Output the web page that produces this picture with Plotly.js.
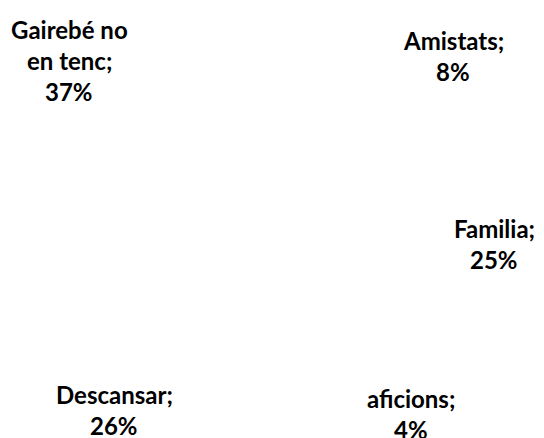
<!DOCTYPE html>
<html>
<head>
<meta charset="utf-8">
<script src="https://cdn.plot.ly/plotly-3.0.1.min.js"></script>
<style>html,body{margin:0;padding:0;background:#fff;}#chart{width:544px;height:438px;}</style>
</head>
<body>
<div id="chart"></div>
<script>
// Data
const labels = ["Amistats", "Familia", "aficions", "Descansar", "Gairebé no en tenc"];
const values = [8, 25, 4, 26, 37];

// Label placement (pixels in the 544x438 canvas: centre x, first-line centre y) - layout only
const labelPos = [[453, 40], [494, 228], [411, 398], [114, 394], [69, 29.5]];
const lineGap = 31;

const W = 544, H = 438;

function wrapLines(text, maxLen) {
  const words = text.split(" ");
  const lines = [];
  let cur = "";
  words.forEach(w => {
    const t = cur ? cur + " " + w : w;
    if (t.length > maxLen && cur) { lines.push(cur); cur = w; }
    else cur = t;
  });
  if (cur) lines.push(cur);
  return lines;
}

const total = values.reduce((a, b) => a + b, 0);
const font = {family: "Lato, 'Open Sans', sans-serif", size: 24, color: "#000", weight: "bold"};

const annotations = [];
labels.forEach((lab, i) => {
  const lines = wrapLines(lab + ";", 10);
  lines.push(Math.round(values[i] / total * 100) + "%");
  lines.forEach((ln, k) => {
    annotations.push({
      text: ln,
      xref: "paper", yref: "paper",
      x: labelPos[i][0] / W, y: 1 - (labelPos[i][1] + k * lineGap) / H,
      xanchor: "center", yanchor: "middle",
      showarrow: false, align: "center",
      font: font
    });
  });
});

const data = [{
  type: "pie",
  labels: labels,
  values: values,
  sort: false,
  direction: "clockwise",
  rotation: 33,
  marker: {colors: labels.map(() => "#ffffff"), line: {color: "#ffffff", width: 0}},
  textinfo: "none",
  hoverinfo: "none",
  showlegend: false,
  domain: {x: [0.2, 0.8], y: [0.15, 0.85]}
}];

const layout = {
  width: W, height: H,
  margin: {l: 0, r: 0, t: 0, b: 0},
  paper_bgcolor: "#ffffff",
  plot_bgcolor: "#ffffff",
  showlegend: false,
  annotations: annotations
};

Plotly.newPlot("chart", data, layout, {displayModeBar: false, staticPlot: true});
</script>
</body>
</html>
